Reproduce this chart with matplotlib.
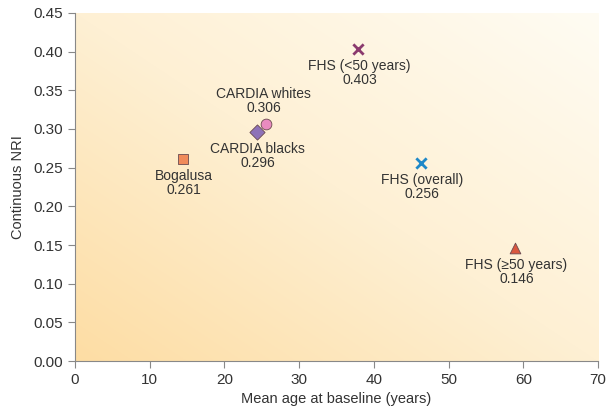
import numpy as np
import matplotlib
matplotlib.use("Agg")
import matplotlib.pyplot as plt
from matplotlib.colors import LinearSegmentedColormap

plt.rcParams['font.family'] = ['Liberation Sans', 'DejaVu Sans']

# study points
studies = ["Bogalusa", "CARDIA blacks", "CARDIA whites", "FHS (<50 years)", "FHS (overall)", "FHS (\u226550 years)"]
mean_age = [14.4, 24.3, 25.6, 37.9, 46.3, 58.9]
nri = [0.261, 0.296, 0.306, 0.403, 0.256, 0.146]
markers = ["s", "D", "o", "x", "x", "^"]
colors = ["#F08A5A", "#8E72B8", "#E98BC0", "#8B3A6E", "#1E88C8", "#D9573F"]
label_pos = ["below", "below", "above", "below", "below", "below"]

xticks = list(range(0, 71, 10))
yticks = [0.00, 0.05, 0.10, 0.15, 0.20, 0.25, 0.30, 0.35, 0.40, 0.45]

fig = plt.figure(figsize=(6.14, 4.16), dpi=100)
ax = fig.add_axes([0.122, 0.132, 0.852, 0.837])

# diagonal gradient background
bg = LinearSegmentedColormap.from_list("bg", ["#FDDDA4", "#FEF0D4", "#FFFCF3"])
gx, gy = np.meshgrid(np.linspace(0, 1, 200), np.linspace(0, 1, 200))
ax.imshow((gx + gy) / 2, cmap=bg, origin="lower", extent=[0, 70, 0, 0.45],
          aspect="auto", zorder=0, interpolation="bilinear")

for name, x, y, m, c, pos in zip(studies, mean_age, nri, markers, colors, label_pos):
    if m == "x":
        ax.scatter(x, y, marker=m, s=55, color=c, linewidths=2, zorder=3)
    else:
        ax.scatter(x, y, marker=m, s=60, color=c, edgecolors="#6a4a50", linewidths=0.6, zorder=3)
    txt = "%s\n%.3f" % (name, y)
    if pos == "above":
        ax.annotate(txt, (x, y), xytext=(-2, 7), textcoords="offset points",
                    ha="center", va="bottom", fontsize=10, color="#333333", linespacing=1.0)
    else:
        ax.annotate(txt, (x, y), xytext=(1, -7), textcoords="offset points",
                    ha="center", va="top", fontsize=10, color="#333333", linespacing=1.0)

ax.set_xlim(0, 70)
ax.set_ylim(0, 0.45)
ax.set_xticks(xticks)
ax.set_yticks(yticks)
ax.set_yticklabels(["%.2f" % v for v in yticks])
ax.set_xlabel("Mean age at baseline (years)", fontsize=10.5, color="#333333")
ax.set_ylabel("Continuous NRI", fontsize=10.5, color="#333333", labelpad=6)
for s in ["top", "right"]:
    ax.spines[s].set_visible(False)
for s in ["left", "bottom"]:
    ax.spines[s].set_color("#888888")
ax.tick_params(colors="#888888", labelcolor="#333333", labelsize=11, length=5)

fig.savefig("out.png", dpi=100)
